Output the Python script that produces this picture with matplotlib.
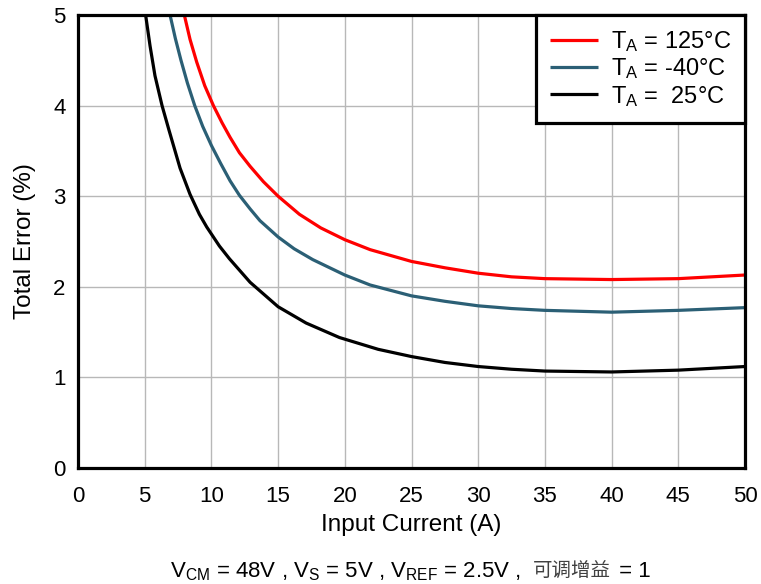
import matplotlib
matplotlib.use('Agg')
import matplotlib.pyplot as plt

plt.rcParams['font.family'] = ['Liberation Sans', 'Noto Sans CJK SC', 'DejaVu Sans']
plt.rcParams['mathtext.fontset'] = 'custom'
plt.rcParams['mathtext.rm'] = 'Liberation Sans'
plt.rcParams['mathtext.default'] = 'regular'

# Donnees
x_125 = [7.97, 8.4, 8.9, 9.5, 10.15, 10.8, 11.4, 12.1, 12.9, 13.9, 15, 16.6, 18.2, 20, 21.9, 25, 27.5, 30, 32.5, 35, 40, 45, 50]
y_125 = [5.0, 4.73, 4.48, 4.22, 4.0, 3.81, 3.65, 3.48, 3.33, 3.16, 3.0, 2.80, 2.65, 2.52, 2.41, 2.28, 2.21, 2.15, 2.11, 2.09, 2.08, 2.09, 2.13]

x_m40 = [6.9, 7.3, 7.72, 8.2, 8.75, 9.35, 10.0, 10.7, 11.4, 12.1, 12.9, 13.64, 15, 16.2, 17.6, 20, 21.9, 25, 27.5, 30, 32.5, 35, 40, 45, 50]
y_m40 = [5.0, 4.74, 4.50, 4.25, 4.0, 3.77, 3.56, 3.36, 3.17, 3.01, 2.86, 2.73, 2.55, 2.42, 2.30, 2.13, 2.02, 1.90, 1.84, 1.79, 1.76, 1.74, 1.72, 1.74, 1.77]

x_25 = [5.07, 5.4, 5.77, 6.3, 6.8, 7.65, 8.4, 9.1, 9.65, 10.6, 11.35, 12.9, 15, 17.1, 19.6, 22.5, 25, 27.5, 30, 32.5, 35, 40, 45, 50]
y_25 = [5.0, 4.66, 4.33, 4.0, 3.74, 3.31, 3.02, 2.80, 2.66, 2.45, 2.31, 2.05, 1.78, 1.60, 1.44, 1.31, 1.23, 1.165, 1.12, 1.09, 1.07, 1.06, 1.08, 1.12]

labels = [r'T$_{A}$ = 125°C', r'T$_{A}$ = -40°C', r'T$_{A}$ =  25°C']
colors = ['#ff0000', '#2b5f75', '#000000']

fig = plt.figure(figsize=(7.61, 5.84), dpi=100)
ax = fig.add_axes([78/761, 1-468/584, (745-78)/761, (468-15)/584])

series = [(x_125, y_125), (x_m40, y_m40), (x_25, y_25)]
for i in range(len(series)):
    xs, ys = series[i]
    ax.plot(xs, ys, color=colors[i], lw=2.3, label=labels[i],
            solid_joinstyle='round', solid_capstyle='butt')

ax.set_xlim(0, 50)
ax.set_ylim(0, 5)
ax.set_xticks(range(0, 51, 5))
ax.set_yticks(range(0, 6))
ax.grid(True, color='#b8b8b8', lw=1.0)
ax.set_axisbelow(True)
for s in ax.spines.values():
    s.set_linewidth(2.3)
ax.tick_params(length=0, labelsize=16)
ax.tick_params(axis='x', pad=13)
ax.tick_params(axis='y', pad=9)
ax.set_xlabel('Input Current (A)', fontsize=17.5, labelpad=5)
ax.set_ylabel('Total Error (%)', fontsize=17.5, labelpad=12)

leg = ax.legend(loc='upper right', fontsize=17, fancybox=False, framealpha=1,
                edgecolor='black', borderaxespad=0, handlelength=2.0,
                labelspacing=0.1, borderpad=0.6, handletextpad=0.55)
leg.get_frame().set_linewidth(2.3)

# Legende sous le graphique
yb = 1 - 577/584
W = 761.0
t1 = fig.text(170/W, yb, r'V$_{CM}$ = 48V , V$_{S}$ = 5V , V$_{REF}$ = 2.5V ,',
              fontsize=16, ha='left', va='baseline')
t2 = fig.text(0, yb, '可调增益', fontsize=14, ha='left', va='baseline',
              family=['Noto Sans CJK SC'], color='#404040')
t3 = fig.text(0, yb, ' = 1', fontsize=16, ha='left', va='baseline')

fig.canvas.draw()
r = fig.canvas.get_renderer()
b1 = t1.get_window_extent(r)
t2.set_x((b1.x1 + 12)/W)
fig.canvas.draw()
b2 = t2.get_window_extent(r)
t3.set_x((b2.x1 + 2)/W)

fig.savefig('out.png', dpi=100)
